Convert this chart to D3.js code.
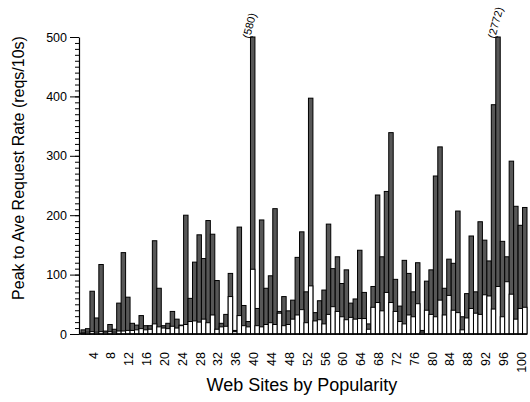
<!DOCTYPE html>
<html>
<head>
<meta charset="utf-8">
<script src="https://cdn.jsdelivr.net/npm/d3@7"></script>
<style>
  html, body { margin: 0; padding: 0; background: #fff; }
  svg { display: block; font-family: "Liberation Sans", Arial, Helvetica, sans-serif; }
</style>
</head>
<body>
<svg id="chart" width="530" height="402"></svg>
<script>
// Web sites ranked by popularity (1 = most popular)
const sites = d3.range(1, 101);

// Peak-to-average request rate, dark bars (taller series)
const darkSeries = [
    7,   9,  72,  27, 117,   5,  16,   8,  52, 137,
   62,  18,  15,  31,  14,  14, 157,  77,  14,  18,
   38,  25,  15, 200,  60, 121, 167, 127, 191, 168,
   90,  18,  33, 102,   6, 180,  48,  21, 580,  43,
  192,  77,  98, 211,  38,  63,  39,  57, 129, 172,
   71, 397,  36,  56,  74, 185, 110, 130,  85, 108,
   52,  59, 141,  70,  17,  80, 234, 130, 240, 339,
   92,  47, 124, 102,  71, 120,   6,  89, 108, 266,
  315,  77, 126, 119, 207,  29,  68, 165,  71, 189,
  158, 123, 386, 2772, 156, 130, 291, 215, 183, 213
];

// Peak-to-average request rate, white bars (drawn in front)
const lightSeries = [
    2,   3,   4,   3,   4,   3,   4,   3,   5,   5,
    6,   6,   7,   9,   7,   8,  17,  12,  10,   9,
   13,  10,  14,  16,  21,  22,  20,  25,  19,  32,
    8,  12,  13,  63,   4,  31,  14,  12, 109,  14,
   12,  16,  19,  16,  35,  14,  16,  25,  32,  41,
   19,  81,  22,  24,  17,  33,  46,  38,  29,  24,
   28,  25,  26,  26,   8,  45,  53,  39,  70,  53,
   38,  21,  17,  32,  29,  51,   3,  40,  33,  29,
   57,  32,  65,  40,  36,   7,  27,  43,  35,  33,
   66,  64,  42,  80,  29,  88,  67,  25,  43,  45
];

const yTicks = [0, 100, 200, 300, 400, 500];
const xTickLabels = d3.range(4, 101, 4);
const yMax = 500;

const svg = d3.select("#chart");

const x = d3.scaleBand().domain(sites).range([81, 527]).padding(0);
const y = d3.scaleLinear().domain([0, yMax]).range([334, 37]);

const rows = sites.map((s, i) => ({ site: s, dark: darkSeries[i], light: lightSeries[i] }));

// dark bars, clipped at the top of the axis
svg.append("g")
  .selectAll("rect")
  .data(rows)
  .join("rect")
    .attr("x", d => x(d.site))
    .attr("width", x.bandwidth())
    .attr("y", d => y(Math.min(d.dark, yMax)))
    .attr("height", d => y(0) - y(Math.min(d.dark, yMax)))
    .attr("fill", "#575757")
    .attr("stroke", "#000")
    .attr("stroke-width", 1);

// white bars in front
svg.append("g")
  .selectAll("rect")
  .data(rows)
  .join("rect")
    .attr("x", d => x(d.site))
    .attr("width", x.bandwidth())
    .attr("y", d => y(d.light))
    .attr("height", d => y(0) - y(d.light))
    .attr("fill", "#fff")
    .attr("stroke", "#000")
    .attr("stroke-width", 1);

// values of bars that run off the top
svg.append("g")
  .selectAll("text")
  .data(rows.filter(d => d.dark > yMax))
  .join("text")
    .attr("transform", d => `translate(${x(d.site) + x.bandwidth() / 2 - 3},${y(yMax) + 2}) rotate(-75)`)
    .attr("font-size", 11)
    .attr("fill", "#000")
    .text(d => `(${d.dark})`);

// baseline
svg.append("line")
  .attr("x1", 79).attr("x2", 527)
  .attr("y1", y(0)).attr("y2", y(0))
  .attr("stroke", "#000")
  .attr("stroke-width", 1.5);

// y axis: minor ticks every 10, major every 100
svg.append("g")
  .attr("transform", "translate(79,0)")
  .call(d3.axisLeft(y).tickValues(d3.range(0, 501, 10)).tickSize(4).tickFormat(""))
  .call(g => g.select(".domain").remove());

svg.append("g")
  .attr("transform", "translate(79,0)")
  .call(d3.axisLeft(y).tickValues(yTicks).tickSize(9).tickSizeOuter(0).tickPadding(3))
  .call(g => g.select(".domain").attr("stroke-width", 1.2))
  .call(g => g.selectAll("text").attr("font-size", 12.5).attr("font-family", "Liberation Sans, Arial, sans-serif"));

// x axis labels, rotated
svg.append("g")
  .attr("transform", `translate(0,${y(0)})`)
  .call(d3.axisBottom(x).tickValues(xTickLabels).tickSize(0).tickSizeOuter(0))
  .call(g => g.select(".domain").remove())
  .call(g => g.selectAll("text")
      .attr("font-size", 12.5)
      .attr("font-family", "Liberation Sans, Arial, sans-serif")
      .attr("text-anchor", "end")
      .attr("dy", null)
      .attr("transform", "rotate(-90)")
      .attr("x", -18)
      .attr("y", 1));

// axis titles
svg.append("text")
  .attr("x", 302).attr("y", 391)
  .attr("text-anchor", "middle")
  .attr("font-size", 18)
  .attr("fill", "#000")
  .text("Web Sites by Popularity");

svg.append("text")
  .attr("transform", "translate(24,168) rotate(-90)")
  .attr("text-anchor", "middle")
  .attr("font-size", 16)
  .attr("fill", "#000")
  .text("Peak to Ave Request Rate (reqs/10s)");
</script>
</body>
</html>
